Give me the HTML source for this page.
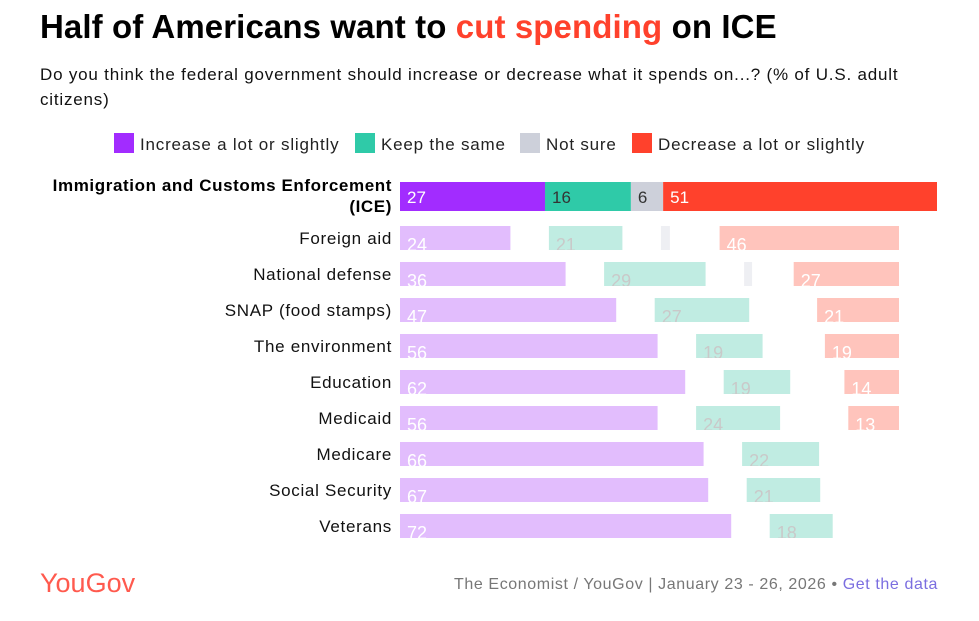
<!DOCTYPE html>
<html><head><meta charset="utf-8"><style>
body{margin:0;background:#fff;width:979px;height:616px;overflow:hidden;font-family:"Liberation Sans",sans-serif;}
svg text{font-family:"Liberation Sans",sans-serif;}
</style></head><body>
<svg id="chart" width="979" height="616">
<text x="40" y="38" font-size="33" font-weight="bold" fill="#000" style="letter-spacing:0.1px">Half of Americans want to <tspan fill="#ff412c">cut spending</tspan> on ICE</text>
<text x="40" y="80" font-size="17" fill="#111" style="letter-spacing:0.8px">Do you think the federal government should increase or decrease what it spends on...? (% of U.S. adult</text>
<text x="40" y="105" font-size="17" fill="#111" style="letter-spacing:0.8px">citizens)</text>
<g id="legend"></g>
<g id="rows"></g>
<text x="40" y="592" font-size="27" fill="#ff5a4e">YouGov</text>
<text x="938" y="589" font-size="16" text-anchor="end" fill="#777" style="letter-spacing:0.6px">The Economist / YouGov | January 23 - 26, 2026 • <tspan fill="#7b6ee0">Get the data</tspan></text>
</svg>
<script>
const categories=["Immigration and Customs Enforcement (ICE)","Foreign aid","National defense","SNAP (food stamps)","The environment","Education","Medicaid","Medicare","Social Security","Veterans"];
const increase=[27,24,36,47,56,62,56,66,67,72];
const keepSame=[16,21,29,27,19,19,24,22,21,18];
const notSure=[6,9,8,null,null,null,null,null,null,null];
const decrease=[51,46,27,21,19,14,13,null,null,null];
const legendLabels=["Increase a lot or slightly","Keep the same","Not sure","Decrease a lot or slightly"];

const NS="http://www.w3.org/2000/svg";
const rowsG=document.getElementById('rows');
const legG=document.getElementById('legend');
const strong=["#a22cff","#2fcaa8","#cdd0da","#ff412c"];
const faint=["#e2bdfd","#c0ece2","#eeeff3","#ffc4bc"];
function mk(tag,attrs,parent){const e=document.createElementNS(NS,tag);for(const k in attrs)e.setAttribute(k,attrs[k]);parent.appendChild(e);return e;}

const legX=[114,355,520,632];
legendLabels.forEach((l,i)=>{
  const r=mk('rect',{x:legX[i],y:133,width:20,height:20,fill:strong[i]},legG);
  
  
  const t=mk('text',{x:legX[i]+26,y:150,'font-size':17,fill:'#222',style:'letter-spacing:0.8px'},legG);
  t.textContent=l;
  
  
});

const x0=400,xEnd=937,fullScale=(xEnd-x0)/100;
const incScale=4.6,keepScale=3.5,nsScale=1,decScale=3.9,gap=38.5,decRight=899;
function label(x,y,txt,col,name){
  const t=mk('text',{x:x,y:y,'font-size':17,fill:col},rowsG);
  t.textContent=txt;
  
  
}
categories.forEach((c,i)=>{
  if(i===0){
    const y=182,h=29;
    const t=mk('text',{x:392,y:191,'font-size':17,'font-weight':'bold','text-anchor':'end',fill:'#000',style:'letter-spacing:0.6px'},rowsG);
    t.textContent="Immigration and Customs Enforcement";
    
    
    const t2=mk('text',{x:392,y:212,'font-size':17,'font-weight':'bold','text-anchor':'end',fill:'#000',style:'letter-spacing:0.6px'},rowsG);
    t2.textContent="(ICE)";
    
    
    let x=x0;
    [increase[0],keepSame[0],notSure[0],decrease[0]].forEach((v,k)=>{
      const w=v*fullScale;
      const r=mk('rect',{x:x,y:y,width:w,height:h,fill:strong[k]},rowsG);
      
      
      label(x+7,y+21,v,(k===0||k===3)?'#fff':'#333','value-ice-seg-'+k);
      x+=w;
    });
    return;
  }
  const cy=238+(i-1)*36,y=cy-12,h=24;
  const t=mk('text',{x:392,y:cy+6,'font-size':17,'text-anchor':'end',fill:'#111',style:'letter-spacing:0.7px'},rowsG);
  t.textContent=c;
  
  
  const clip=mk('clipPath',{id:'c'+i},rowsG);
  mk('rect',{x:0,y:y,width:979,height:h},clip);
  const wi=increase[i]*incScale;
  const ri=mk('rect',{x:x0,y:y,width:wi,height:h,fill:faint[0]},rowsG);
  
  
  let x=x0+wi+gap;
  const wk=keepSame[i]*keepScale;
  const rk=mk('rect',{x:x,y:y,width:wk,height:h,fill:faint[1]},rowsG);
  
  
  const kx=x;
  x+=wk+gap;
  if(notSure[i]!=null){
    const rn=mk('rect',{x:x,y:y,width:Math.max(1,notSure[i]*nsScale),height:h,fill:faint[2]},rowsG);
    
    
  }
  let dx=null;
  if(decrease[i]!=null){
    const wd=decrease[i]*decScale;
    dx=decRight-wd;
    const rd=mk('rect',{x:dx,y:y,width:wd,height:h,fill:faint[3]},rowsG);
    
    
  }
  const g=mk('g',{'clip-path':'url(#c'+i+')'},rowsG);
  const lab=(xx,txt,col,name)=>{const tt=mk('text',{x:xx,y:cy+13,'font-size':18,fill:col},g);tt.textContent=txt;};
  lab(x0+7,increase[i],'#fff','value-increase-'+i);
  lab(kx+7,keepSame[i],'#c9c9c9','value-keep-'+i);
  if(dx!=null) lab(dx+7,decrease[i],'#fff','value-decrease-'+i);
});
</script>
</body></html>
